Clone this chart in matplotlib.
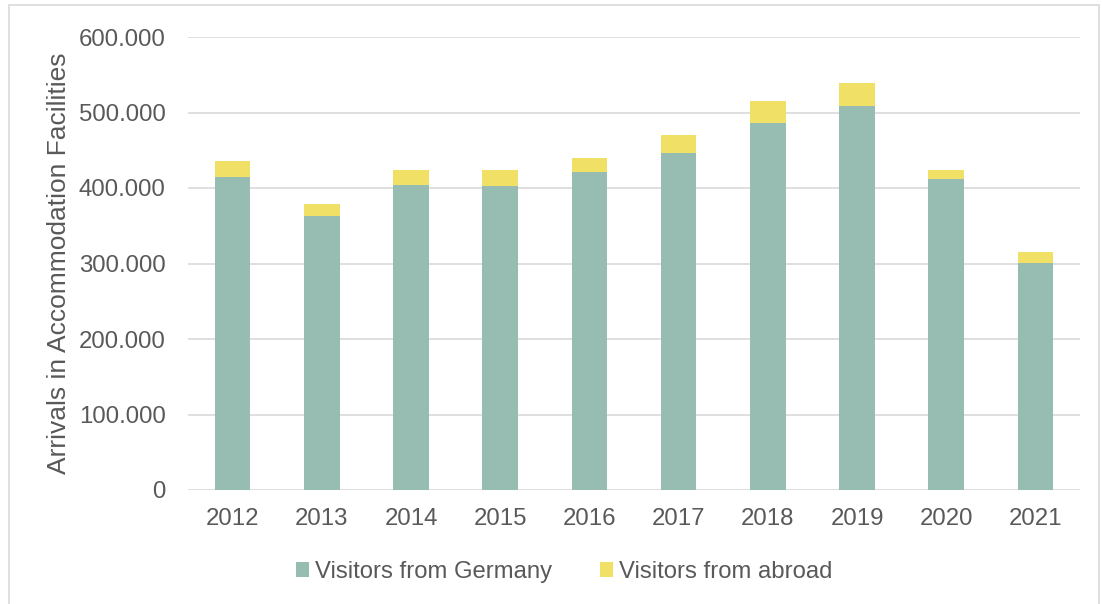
import numpy as np
import matplotlib
matplotlib.use("Agg")
import matplotlib.pyplot as plt
from matplotlib.patches import Rectangle
from matplotlib.ticker import FuncFormatter

years = ["2012", "2013", "2014", "2015", "2016", "2017", "2018", "2019", "2020", "2021"]
germany = [415100, 362600, 404500, 402800, 420800, 446800, 485600, 508100, 412400, 300400]
abroad = [21100, 16800, 19800, 21100, 19400, 23800, 29100, 30900, 11900, 14200]

green = "#97bdb3"
yellow = "#f0e066"
text_col = "#595959"
grid_col = "#d9d9d9"

plt.rcParams["font.family"] = ["Liberation Sans", "DejaVu Sans"]

fig = plt.figure(figsize=(11.02, 6.04), dpi=100)
ax = fig.add_axes([188 / 1102, 1 - 490 / 604, (1080 - 188) / 1102, (490 - 37) / 604])

x = np.arange(len(years))
ax.bar(x, germany, width=0.4, color=green, label="Visitors from Germany", zorder=3)
ax.bar(x, abroad, width=0.4, bottom=germany, color=yellow, label="Visitors from abroad", zorder=3)

ax.set_xlim(-0.5, len(years) - 0.5)
ax.set_ylim(0, 600000)
ax.set_yticks(np.arange(0, 600001, 100000))
ax.yaxis.set_major_formatter(FuncFormatter(lambda v, p: f"{int(v):,}".replace(",", ".")))
ax.set_xticks(x)
ax.set_xticklabels(years)
ax.grid(axis="y", color=grid_col, linewidth=1.2, zorder=0)
for s in ax.spines.values():
    s.set_visible(False)
ax.tick_params(length=0, labelsize=17.3, labelcolor=text_col)
ax.tick_params(axis="y", pad=16)
ax.tick_params(axis="x", pad=13)
ax.set_ylabel("Arrivals in Accommodation Facilities", fontsize=19, color=text_col)
ax.yaxis.set_label_coords(-0.131, 0.5)

ax.legend(loc="center", bbox_to_anchor=(564 / 1102, (604 - 572) / 604), bbox_transform=fig.transFigure,
          ncol=2, frameon=False, fontsize=17.2, labelcolor=text_col,
          handlelength=0.55, handleheight=0.55, handletextpad=0.25, columnspacing=2.0)

# thin frame around the whole chart
fig.patches.append(Rectangle((9 / 1102, -0.02), 1090 / 1102, 1.0 - 5 / 604 + 0.02,
                             transform=fig.transFigure, fill=False,
                             edgecolor="#d9d9d9", linewidth=1.2))

fig.savefig("out.png", dpi=100)
